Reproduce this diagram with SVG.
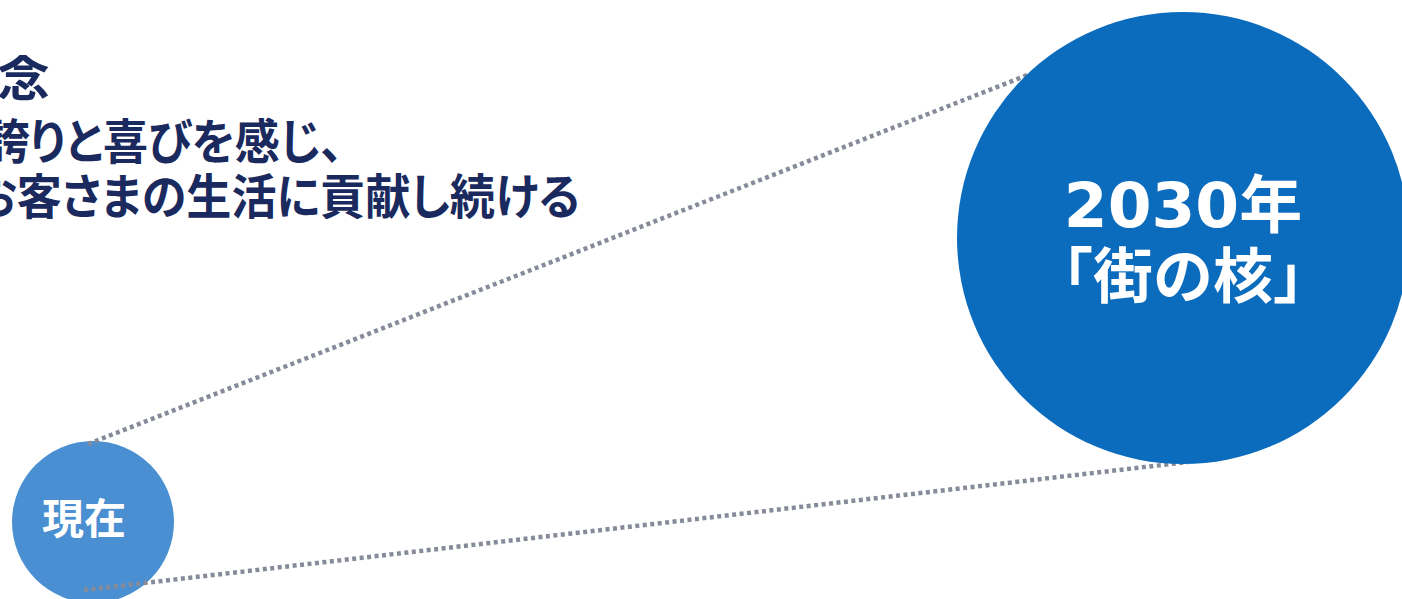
<svg xmlns="http://www.w3.org/2000/svg" width="1402" height="599" viewBox="0 0 1402 599">
  <style>
    .head { font-family: "Noto Sans CJK JP", sans-serif; font-weight: 700; fill: #1a2a5e; font-size: 48px; font-feature-settings: "palt"; }
    .label { font-family: "DejaVu Sans", "Noto Sans CJK JP", sans-serif; font-weight: 700; fill: #ffffff; text-anchor: middle; }
    .jp { font-family: "Noto Sans CJK JP", sans-serif; }
    .conn { stroke: #858b99; stroke-width: 4.5; stroke-dasharray: 4 3.5; fill: none; }
  </style>
  <rect width="1402" height="599" fill="#ffffff"/>
  <g id="title">
    <text class="head" x="-3" y="96" textLength="53" lengthAdjust="spacingAndGlyphs">念</text>
    <text class="head" x="-15" y="159" textLength="358" lengthAdjust="spacingAndGlyphs">誇りと喜びを感じ、</text>
    <text class="head" x="-27" y="214" textLength="607" lengthAdjust="spacingAndGlyphs">お客さまの生活に貢献し続ける</text>
  </g>
  <g id="node-now">
    <circle cx="93" cy="522" r="81" fill="#4a8fd1"/>
    <text class="label jp" x="84" y="534" font-size="42">現在</text>
  </g>
  <g id="connectors">
    <line class="conn" x1="88" y1="444" x2="1030" y2="74"/>
    <line class="conn" x1="84" y1="590" x2="1188" y2="462"/>
  </g>
  <g id="node-2030">
    <circle cx="1183" cy="238" r="226" fill="#0b6bbd"/>
    <text class="label" x="1183" y="227" font-size="63">2030年</text>
    <text class="label jp" x="1183" y="298" font-size="60">「街の核」</text>
  </g>
</svg>
